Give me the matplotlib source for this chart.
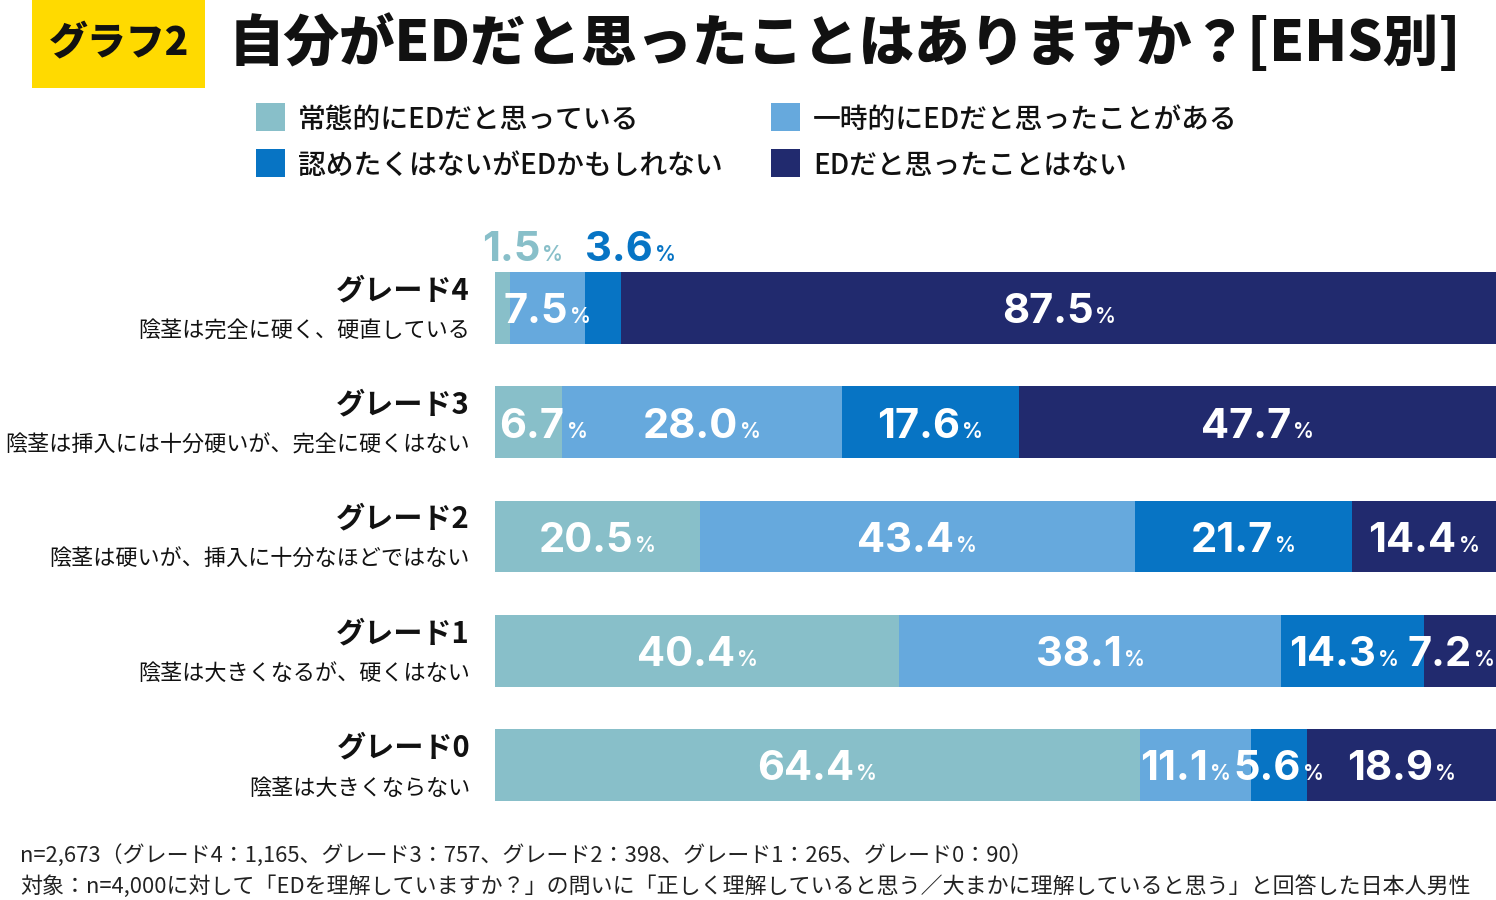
import matplotlib
matplotlib.use("Agg")
import matplotlib.pyplot as plt
from matplotlib.patches import Rectangle

plt.rcParams['font.family'] = ['Noto Sans CJK JP', 'DejaVu Sans']

# ---------------- data ----------------
grades = ["グレード4", "グレード3", "グレード2", "グレード1", "グレード0"]
descriptions = [
    "陰茎は完全に硬く、硬直している",
    "陰茎は挿入には十分硬いが、完全に硬くはない",
    "陰茎は硬いが、挿入に十分なほどではない",
    "陰茎は大きくなるが、硬くはない",
    "陰茎は大きくならない",
]
series_names = [
    "常態的にEDだと思っている",
    "一時的にEDだと思ったことがある",
    "認めたくはないがEDかもしれない",
    "EDだと思ったことはない",
]
always = [1.5, 6.7, 20.5, 40.4, 64.4]
temporary = [7.5, 28.0, 43.4, 38.1, 11.1]
maybe = [3.6, 17.6, 21.7, 14.3, 5.6]
never = [87.5, 47.7, 14.4, 7.2, 18.9]
series = [always, temporary, maybe, never]

title = "自分がEDだと思ったことはありますか？[EHS別]"
badge = "グラフ2"
note1 = "n=2,673（グレード4：1,165、グレード3：757、グレード2：398、グレード1：265、グレード0：90）"
note2 = "対象：n=4,000に対して「EDを理解していますか？」の問いに「正しく理解していると思う／大まかに理解していると思う」と回答した日本人男性"

# ---------------- style ----------------
colors = ["#88BFC9", "#66A9DD", "#0774C4", "#212A6E"]
W, H, DPI = 1496, 900, 100
bar_h = 0.63
num_font = ['Inter', 'DejaVu Sans']

fig = plt.figure(figsize=(W / DPI, H / DPI), dpi=DPI)
fig.patch.set_facecolor("white")

# badge
fig.patches.append(Rectangle((32 / W, 1 - 88 / H), 173 / W, 88 / H,
                             transform=fig.transFigure, facecolor="#FFDA00",
                             edgecolor="none", zorder=0))
fig.text(119 / W, 1 - 44 / H, badge, ha="center", va="center",
         fontsize=28, fontweight="heavy", color="#111111")
fig.text(229 / W, 1 - 44 / H, title, ha="left", va="center",
         fontsize=40, fontweight="heavy", color="#111111")

# legend
leg_pos = [(256, 117), (771, 117), (256, 163), (771, 163)]
for (lx, ly), name, c in zip(leg_pos, series_names, colors):
    fig.patches.append(Rectangle((lx / W, 1 - (ly + 14) / H), 29 / W, 28 / H,
                                 transform=fig.transFigure, facecolor=c,
                                 edgecolor="none"))
    fig.text((lx + 42) / W, 1 - (ly + 2) / H, name, ha="left", va="center",
             fontsize=20, fontweight="medium", color="#111111")

# axes
ax = fig.add_axes([495 / W, (H - 801) / H, (W - 495) / W, (801 - 272) / H])
n = len(grades)
ypos = list(range(n))
ax.set_xlim(0, 100)
ax.set_ylim(n - 1 + bar_h / 2, -bar_h / 2)
ax.axis("off")

lefts = [0.0] * n
seg_bounds = []
for vals, c in zip(series, colors):
    ax.barh(ypos, vals, left=lefts, height=bar_h, color=c, edgecolor="none")
    seg_bounds.append([(l, l + v) for l, v in zip(lefts, vals)])
    lefts = [l + v for l, v in zip(lefts, vals)]

# category labels
for i, (g, d) in enumerate(zip(grades, descriptions)):
    ax.annotate(g, (0, i), xytext=(-18, 2), textcoords="offset points",
                ha="right", va="bottom", fontsize=21, fontweight="bold",
                color="#111111", annotation_clip=False)
    ax.annotate(d, (0, i), xytext=(-18, -9), textcoords="offset points",
                ha="right", va="top", fontsize=15.9, color="#111111",
                annotation_clip=False)

# value labels
labels = []


def pct_label(x, y, value, color, mode="center", dx_px=0.0, dy_pt=-11.0,
              size_num=30, size_pct=15):
    t1 = ax.annotate(f"{value:.1f}", (x, y), xytext=(0, dy_pt),
                     textcoords="offset points", ha="left", va="baseline",
                     fontsize=size_num, fontweight="bold", color=color,
                     family=num_font, annotation_clip=False)
    t2 = ax.annotate("%", (x, y), xytext=(0, dy_pt),
                     textcoords="offset points", ha="left", va="baseline",
                     fontsize=size_pct, fontweight="semibold", color=color,
                     family=num_font, annotation_clip=False)
    labels.append((t1, t2, mode, dx_px, dy_pt))


inside_offsets = {(0, 0): None, (0, 2): None, (1, 0): 15, (3, 2): -8,
                  (3, 3): -9, (4, 1): -10}
for s, (vals, bounds) in enumerate(zip(series, seg_bounds)):
    for i in range(n):
        key = (i, s)
        if key in inside_offsets and inside_offsets[key] is None:
            continue
        a, b = bounds[i]
        pct_label((a + b) / 2, i, vals[i], "white",
                  dx_px=inside_offsets.get(key, 0) or 0)

# small segments of grade4 labelled above the bar
a, b = seg_bounds[0][0]
pct_label(a, 0, series[0][0], colors[0], mode="left", dx_px=-13, dy_pt=34)
a, b = seg_bounds[2][0]
pct_label(a, 0, series[2][0], colors[2], mode="left", dx_px=0, dy_pt=34)

fig.canvas.draw()
r = fig.canvas.get_renderer()
gap = 2
k = 72 / DPI
for t1, t2, mode, dx_px, dy_pt in labels:
    w1 = t1.get_window_extent(r).width
    w2 = t2.get_window_extent(r).width
    total = w1 + gap + w2
    start = (-total / 2 if mode == "center" else 0) + dx_px
    t1.set_position((start * k, dy_pt))
    t2.set_position(((start + w1 + gap) * k, dy_pt))

# footnotes
fig.text(20 / W, 1 - 856 / H, note1, ha="left", va="center", fontsize=15.8,
         color="#222222")
fig.text(20 / W, 1 - 887 / H, note2, ha="left", va="center", fontsize=15.8,
         color="#222222")

fig.savefig("out.png", dpi=DPI, facecolor="white")
